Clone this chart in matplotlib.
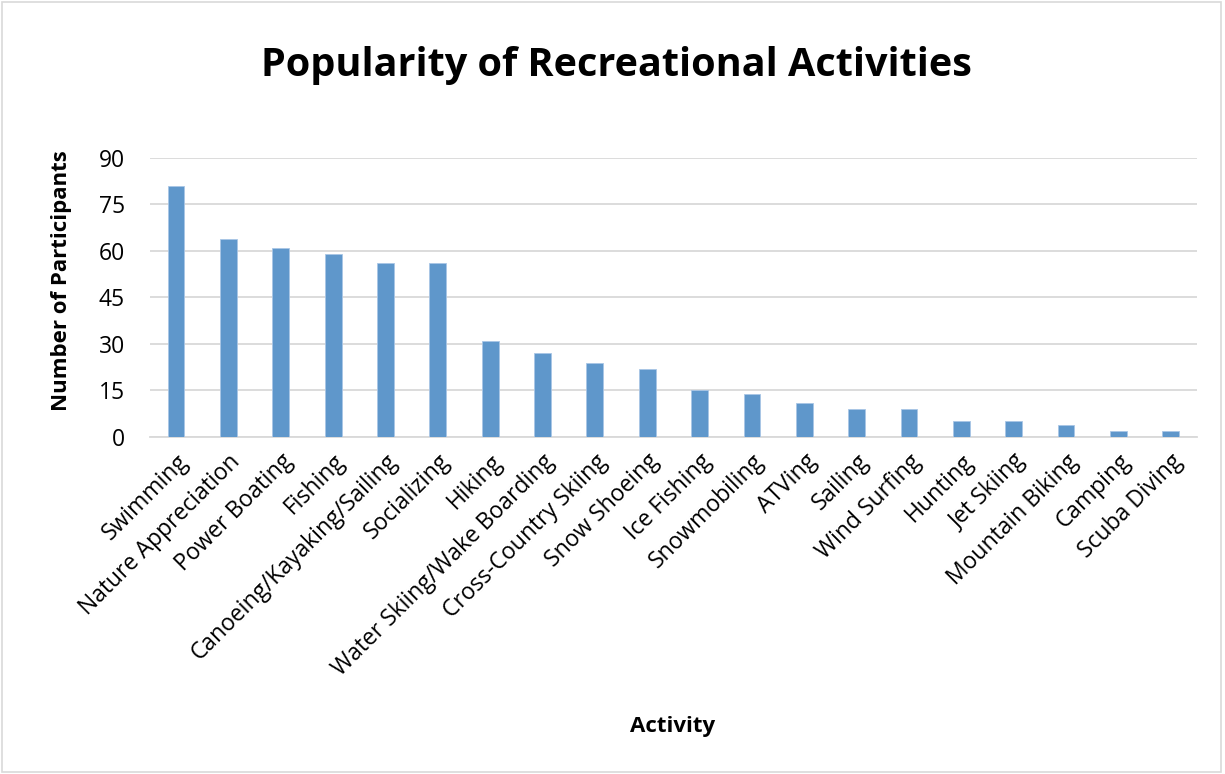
import matplotlib.pyplot as plt
from matplotlib.patches import Rectangle

plt.rcParams['font.family'] = ['Open Sans', 'DejaVu Sans']

activities = ['Swimming', 'Nature Appreciation', 'Power Boating', 'Fishing',
              'Canoeing/Kayaking/Sailing', 'Socializing', 'Hiking',
              'Water Skiing/Wake Boarding', 'Cross-Country Skiing', 'Snow Shoeing',
              'Ice Fishing', 'Snowmobiling', 'ATVing', 'Sailing', 'Wind Surfing',
              'Hunting', 'Jet Skiing', 'Mountain Biking', 'Camping', 'Scuba Diving']
participants = [81, 64, 61, 59, 56, 56, 31, 27, 24, 22, 15, 14, 11, 9, 9, 5, 5, 4, 2, 2]
yticks = [0, 15, 30, 45, 60, 75, 90]

fig = plt.figure(figsize=(12.25, 7.74), dpi=100)
ax = fig.add_axes([0.1224, 0.4354, 0.8546, 0.3605])

x = range(len(activities))
ax.bar(x, participants, width=0.32, color='#5F97CB', edgecolor='#A9C6E6',
       linewidth=0.6, zorder=3)

ax.set_xlim(-0.5, len(activities) - 0.5)
ax.set_ylim(0, 90)
ax.set_yticks(yticks)
ax.grid(axis='y', color='#d9d9d9', linewidth=1.3, zorder=0)
ax.set_xticks(list(x))
ax.set_xticklabels(activities, rotation=45, ha='right', rotation_mode='anchor',
                   fontsize=16.5)
ax.tick_params(axis='y', labelsize=16.5)
ax.tick_params(axis='both', length=0, colors='black')
ax.tick_params(axis='x', pad=9)
ax.tick_params(axis='y', pad=18)
for s in ['top', 'right', 'left']:
    ax.spines[s].set_visible(False)
ax.spines['bottom'].set_color('#d9d9d9')
ax.spines['bottom'].set_linewidth(1.3)

fig.text(0.0506, 0.638, 'Number of Participants', rotation=90, ha='center',
         va='center', fontsize=16, fontweight='bold')
fig.text(0.549, 0.062, 'Activity', ha='center', va='center', fontsize=16,
         fontweight='bold')
fig.text(0.503, 0.916, 'Popularity of Recreational Activities', ha='center',
         va='center', fontsize=28.5, fontweight='bold')

fig.patches.append(Rectangle((0.002, 0.003), 0.995, 0.994, transform=fig.transFigure,
                             fill=False, edgecolor='#d9d9d9', linewidth=1.2))

fig.savefig('out.png', dpi=100)
